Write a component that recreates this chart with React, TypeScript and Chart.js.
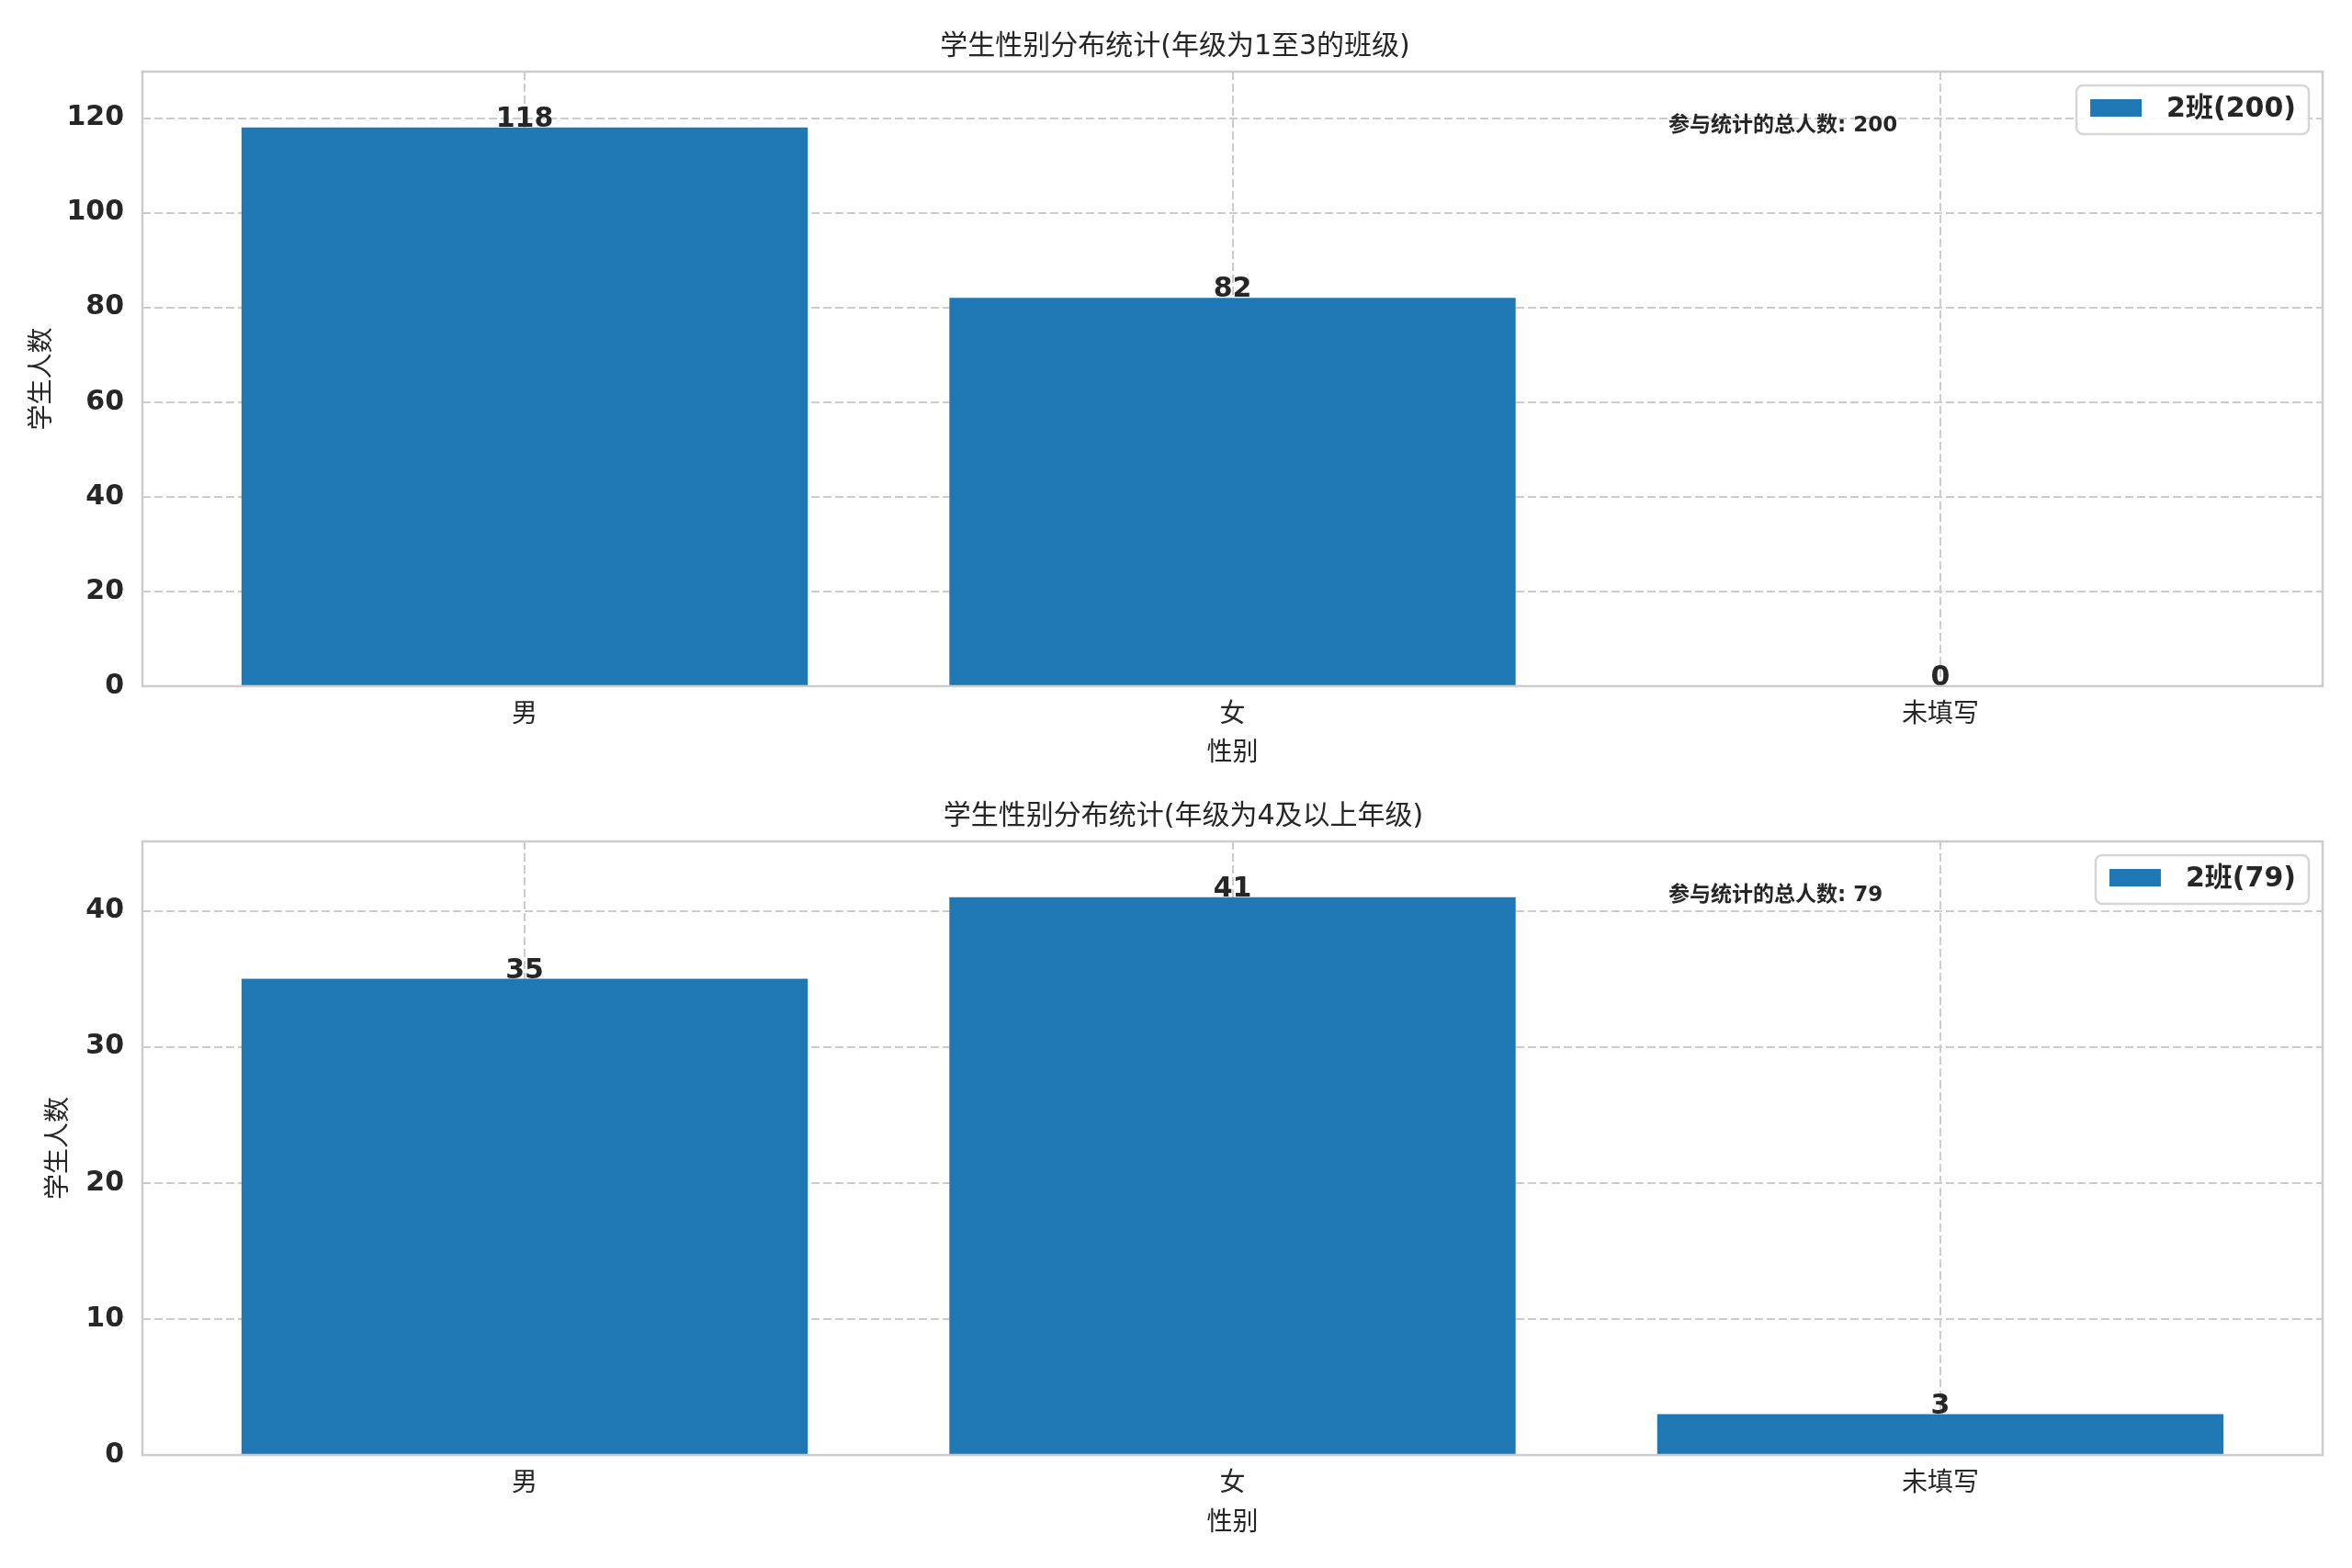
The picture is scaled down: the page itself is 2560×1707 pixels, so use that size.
import { useEffect, useRef } from "react";
import { Chart, registerables } from "chart.js";
Chart.register(...registerables);

// data
const genders = ["男", "女", "未填写"];
const lowerGradeCounts = [118, 82, 0];
const upperGradeCounts = [35, 41, 3];
const lowerGradeTicks = [0, 20, 40, 60, 80, 100, 120];
const upperGradeTicks = [0, 10, 20, 30, 40];
const classLabel = "2班";
const lowerTitle = "学生性别分布统计(年级为1至3的班级)";
const upperTitle = "学生性别分布统计(年级为4及以上年级)";
const totalLabel = "参与统计的总人数";
const yAxisTitle = "学生人数";
const xAxisTitle = "性别";

const FONT = "'DejaVu Sans', 'Noto Sans CJK SC', sans-serif";
const TEXT = "#262626";
const GRID = "#cccccc";
const BAR = "#1f77b4";

type Box = {
  height: number;
  padLeft: number;
  padBottom: number;
  titleTop: number;
  xAxisHeight: number;
};

function GenderChart({ counts, ticks, title, box }: { counts: number[]; ticks: number[]; title: string; box: Box }) {
  const chartRef = useRef<HTMLCanvasElement>(null);

  useEffect(() => {
    if (!chartRef.current) return;
    const total = counts.reduce((a, b) => a + b, 0);
    const legendText = `${classLabel}(${total})`;

    const overlay = {
      id: "overlay",
      afterDatasetsDraw(chart: Chart) {
        const ctx = chart.ctx;
        const meta = chart.getDatasetMeta(0);
        ctx.save();
        ctx.fillStyle = TEXT;
        ctx.font = `bold 30px ${FONT}`;
        ctx.textAlign = "center";
        ctx.textBaseline = "alphabetic";
        meta.data.forEach((bar: any, i: number) => {
          ctx.fillText(String(counts[i]), bar.x, bar.y - 1);
        });
        ctx.restore();
      },
      afterDraw(chart: Chart) {
        const ctx = chart.ctx;
        const a = chart.chartArea;
        ctx.save();
        // frame
        ctx.strokeStyle = GRID;
        ctx.lineWidth = 2.5;
        ctx.strokeRect(a.left, a.top, a.right - a.left, a.bottom - a.top);

        // total note
        ctx.fillStyle = TEXT;
        ctx.font = `bold 23px ${FONT}`;
        ctx.textAlign = "left";
        ctx.textBaseline = "middle";
        ctx.fillText(
          `${totalLabel}: ${total}`,
          a.left + 0.7 * (a.right - a.left),
          a.bottom - 0.912 * (a.bottom - a.top)
        );

        // legend
        ctx.font = `bold 30px ${FONT}`;
        const tw = ctx.measureText(legendText).width;
        const bw = 15 + 56 + 27 + tw + 14;
        const bh = 53;
        const bx = a.right - 15 - bw;
        const by = a.top + 15;
        ctx.beginPath();
        ctx.roundRect(bx, by, bw, bh, 7);
        ctx.fillStyle = "rgba(255,255,255,0.85)";
        ctx.fill();
        ctx.strokeStyle = "#d6d6d6";
        ctx.lineWidth = 2.5;
        ctx.stroke();
        ctx.fillStyle = BAR;
        ctx.fillRect(bx + 15, by + 15, 56, 19);
        ctx.fillStyle = TEXT;
        ctx.textAlign = "left";
        ctx.textBaseline = "middle";
        ctx.fillText(legendText, bx + 15 + 56 + 27, by + 26);
        ctx.restore();
      },
    };

    const chart = new Chart(chartRef.current, {
      type: "bar",
      data: {
        datasets: [{
          label: legendText,
          data: counts.map((v, i) => ({ x: i, y: v })),
          backgroundColor: BAR,
          borderWidth: 0,
          barPercentage: 0.8,
          categoryPercentage: 1,
        }],
      },
      options: {
        animation: false,
        responsive: true,
        maintainAspectRatio: false,
        devicePixelRatio: 1,
        layout: { padding: { top: 0, left: box.padLeft, right: 32, bottom: box.padBottom } },
        plugins: {
          legend: { display: false },
          tooltip: { enabled: false },
          title: {
            display: true,
            text: title,
            color: TEXT,
            font: { family: FONT, size: 30, weight: "normal", lineHeight: 1.2 },
            padding: { top: box.titleTop, bottom: 9 },
          },
        },
        scales: {
          x: {
            type: "linear",
            min: -0.54,
            max: 2.54,
            offset: false,
            afterBuildTicks: (s: any) => { s.ticks = genders.map((_, i) => ({ value: i })); },
            afterFit: (s: any) => { s.height = box.xAxisHeight; },
            ticks: {
              color: TEXT,
              padding: 15,
              font: { family: FONT, size: 28 },
              callback: (v: any) => genders[v] ?? "",
            },
            grid: { color: GRID, lineWidth: 2, drawTicks: false, offset: false },
            border: { display: false, dash: [9, 4] },
            title: {
              display: true,
              text: xAxisTitle,
              color: TEXT,
              font: { family: FONT, size: 28, lineHeight: 1.2 },
              padding: 0,
            },
          },
          y: {
            type: "linear",
            min: 0,
            max: Math.max(...counts) * 1.1,
            afterBuildTicks: (s: any) => { s.ticks = ticks.map((v) => ({ value: v })); },
            afterFit: (s: any) => { s.width = 155 - box.padLeft; },
            ticks: {
              color: TEXT,
              padding: 20,
              font: { family: FONT, size: 30, weight: "bold" },
            },
            grid: { color: GRID, lineWidth: 2, drawTicks: false },
            border: { display: false, dash: [9, 4] },
            title: {
              display: true,
              text: yAxisTitle,
              color: TEXT,
              font: { family: FONT, size: 28, lineHeight: 1.2 },
              padding: 0,
            },
          },
        },
      },
      plugins: [overlay],
    } as any);

    return () => { chart.destroy(); };
  }, []);

  return (
    <div style={{ position: "relative", height: box.height + "px", width: "2560px" }}>
      <canvas ref={chartRef}></canvas>
    </div>
  );
}

export default function App() {
  return (
    <div style={{ position: "fixed", left: 0, top: 0, width: "2560px", height: "1707px", background: "#fff" }}>
      <GenderChart
        counts={lowerGradeCounts}
        ticks={lowerGradeTicks}
        title={lowerTitle}
        box={{ height: 853, padLeft: 30, padBottom: 15, titleTop: 33, xAxisHeight: 91 }}
      />
      <GenderChart
        counts={upperGradeCounts}
        ticks={upperGradeTicks}
        title={upperTitle}
        box={{ height: 854, padLeft: 48, padBottom: 31, titleTop: 18, xAxisHeight: 92 }}
      />
    </div>
  );
}
